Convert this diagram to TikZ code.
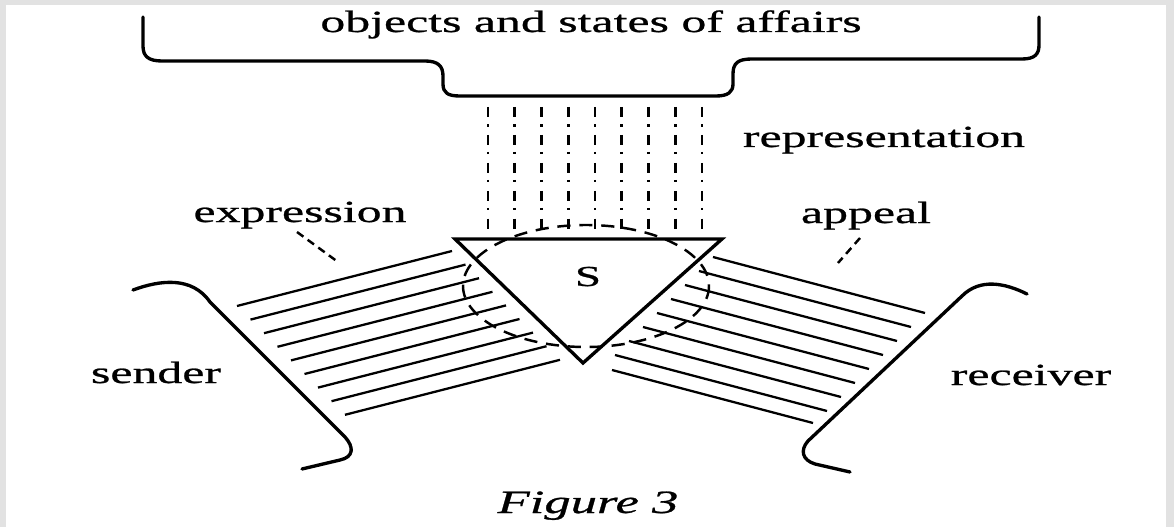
\documentclass[tikz,border=0pt]{standalone}
\usepackage{fontspec}
\setmainfont{Liberation Serif}[FakeStretch=1.62, FakeBold=0.8]
\usepackage{xcolor}
\definecolor{pagegray}{RGB}{226,226,226}

\begin{document}
\begin{tikzpicture}[x=0.02cm, y=-0.02cm,
    frame/.style={line width=1.9pt, line cap=round, line join=round},
    hatch/.style={line width=1.3pt},
    sign/.style={line width=1.9pt, line join=miter},
    ray/.style={line width=1.5pt, dash pattern=on 5.7pt off 4pt on 1.4pt off 4.8pt},
    field/.style={line width=1.4pt, dash pattern=on 7.5pt off 5pt},
    leader/.style={line width=1.4pt, dash pattern=on 4.5pt off 3pt},
    word/.style={inner sep=0pt, anchor=base, font=\fontsize{17.5}{20}\selectfont}]

    \useasboundingbox (0,0) rectangle (1174,527);
    \fill[pagegray] (0,0) rectangle (1174,527);
    \fill[white] (6,5) rectangle (1166,527);

    \node[word] (objects) at (591,32) {objects and states of affairs};
    \node[word] (representation) at (884,147) {representation};
    \node[word] (expression) at (300,222) {expression};
    \node[word] (appeal) at (866,223) {appeal};
    \node[word] (sender) at (156,383) {sender};
    \node[word] (receiver) at (1031,385) {receiver};
    \node[word, font=\fontsize{16.5}{18}\selectfont] (sign) at (588,286) {S};
    \node[word, font=\fontsize{18.5}{21}\selectfont\itshape] (caption) at (588,513) {Figure 3};

    \draw[frame] (143,17) -- (143,46) .. controls (143,56) and (148,61) .. (162,61)
        -- (425,61) .. controls (438,61) and (443,66) .. (443,76) -- (443,84)
        .. controls (443,93) and (448,96) .. (460,96) -- (716,96)
        .. controls (728,96) and (733,92) .. (733,84) -- (733,74)
        .. controls (733,63) and (738,59) .. (752,59) -- (1022,59)
        .. controls (1035,59) and (1039,54) .. (1039,45) -- (1039,17);

    \draw[frame] (133,290) .. controls (160,280) and (192,276) .. (210,302) -- (345,437)
        .. controls (354,447) and (354,457) .. (340,460) -- (302,469);
    \draw[frame] (1027,294) .. controls (1005,283) and (980,278) .. (962,296) -- (808,441)
        .. controls (800,450) and (802,460) .. (815,464) -- (850,472);

    \foreach \i in {0,...,8}
        \draw[ray] ({488+26.75*\i},107) -- ++(0,125);

    \foreach \i in {0,...,8}
        \draw[hatch] ({237+13.5*\i},{306+13.6*\i}) -- ++(215,-55);
    \foreach \i in {0,...,7}
        \draw[hatch] ({713-14*\i},{257+14*\i}) -- ++(212,56);
    \draw[hatch] (612,370) -- (813,423);

    \draw[sign] (455,239) -- (722,239) -- (583,363) -- cycle;
    \draw[field] (586,286) ellipse [x radius=123, y radius=61];

    \coordinate (expr a) at (297,232);
    \coordinate (expr b) at (338,262);
    \coordinate (appeal a) at (860,238);
    \coordinate (appeal b) at (838,263);
    \draw[leader] (expr a) -- (expr b);
    \draw[leader] (appeal a) -- (appeal b);
\end{tikzpicture}
\end{document}
